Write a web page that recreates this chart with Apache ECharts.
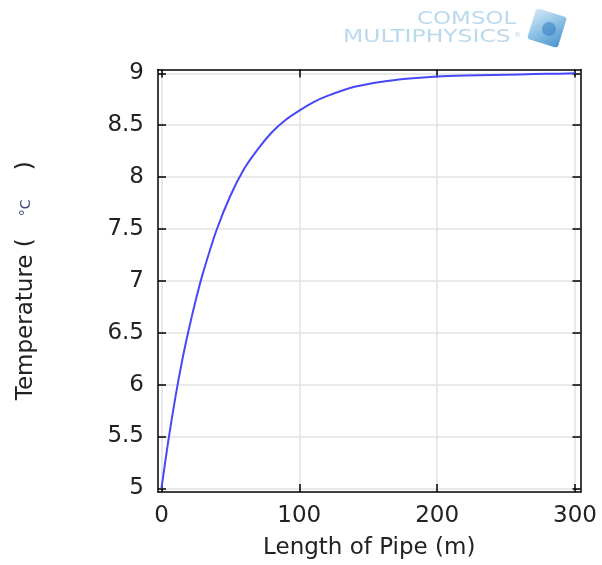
<!DOCTYPE html>
<html>
<head>
<meta charset="utf-8">
<script src="https://cdn.jsdelivr.net/npm/echarts@6/dist/echarts.min.js"></script>
<style>html,body{margin:0;padding:0;background:#fff}#c{width:602px;height:565px}</style>
</head>
<body>
<div id="c"></div>
<script>
// Data
const lengthM = [0, 5, 10, 15, 20, 25, 30, 40, 50, 60, 70, 80, 90, 100, 110, 120, 140, 160, 180, 200, 220, 240, 260, 280, 300];
const temperatureC = [5.00, 5.46, 5.87, 6.23, 6.54, 6.82, 7.07, 7.49, 7.82, 8.08, 8.27, 8.43, 8.55, 8.64, 8.72, 8.78, 8.87, 8.92, 8.95, 8.97, 8.98, 8.985, 8.99, 8.995, 9.00];
const xTicks = [0, 100, 200, 300];
const yTicks = [5, 5.5, 6, 6.5, 7, 7.5, 8, 8.5, 9];
const xTitle = 'Length of Pipe (m)';
const yTitle = 'Temperature (   {u|°C}    )';

const font = 'DejaVu Sans';
const fs = 23;
const chart = echarts.init(document.getElementById('c'), null, {renderer: 'canvas'});
const series = lengthM.map((x, i) => [x, temperatureC[i]]);

const baseX = {
  type: 'value', min: -2.5, max: 304,
  axisLine: {show: true, onZero: false, lineStyle: {color: '#000', width: 1.5}},
  axisTick: {show: true, inside: true, length: 8, customValues: xTicks, lineStyle: {color: '#000', width: 1.5}},
  splitLine: {show: false}
};
const baseY = {
  type: 'value', min: 4.965, max: 9.037,
  axisLine: {show: true, onZero: false, lineStyle: {color: '#000', width: 1.5}},
  axisTick: {show: true, inside: true, length: 8, customValues: yTicks, lineStyle: {color: '#000', width: 1.5}},
  splitLine: {show: false}
};

chart.setOption({
  animation: false,
  backgroundColor: '#fff',
  grid: {left: 158, right: 21.5, top: 69.5, bottom: 72.5, containLabel: false},
  xAxis: [
    Object.assign({}, baseX, {
      position: 'bottom',
      name: xTitle, nameLocation: 'middle', nameGap: 45,
      nameTextStyle: {fontFamily: font, fontSize: fs, color: '#222'},
      axisLabel: {show: true, customValues: xTicks, margin: 13, fontFamily: font, fontSize: fs, color: '#222',
        formatter: v => String(v)},
      splitLine: {show: true, lineStyle: {color: '#e2e2e2', width: 1.5}}
    }),
    Object.assign({}, baseX, {position: 'top', axisLabel: {show: false}})
  ],
  yAxis: [
    Object.assign({}, baseY, {
      position: 'left',
      name: yTitle, nameLocation: 'middle', nameGap: 120,
      nameTextStyle: {fontFamily: font, fontSize: fs, color: '#222',
        rich: {u: {fontFamily: font, fontSize: 14, color: '#3a4a7a'}}},
      axisLabel: {show: true, customValues: yTicks, margin: 14, fontFamily: font, fontSize: fs, color: '#222',
        formatter: v => String(v)},
      splitLine: {show: true, lineStyle: {color: '#e2e2e2', width: 1.5}}
    }),
    Object.assign({}, baseY, {position: 'right', axisLabel: {show: false}})
  ],
  series: [{
    type: 'line', data: series, smooth: 0.3, showSymbol: false, symbol: 'none',
    xAxisIndex: 0, yAxisIndex: 0,
    lineStyle: {color: '#4848f8', width: 2}
  }],
  graphic: [
    {type: 'text', left: 417, top: 11, scaleX: 1.35,
      style: {text: 'COMSOL', fontFamily: font, fontSize: 17, fill: '#b9d9ee'}},
    {type: 'text', left: 343, top: 29, scaleX: 1.38,
      style: {text: 'MULTIPHYSICS', fontFamily: font, fontSize: 17, fill: '#b9d9ee'}},
    {type: 'text', left: 514, top: 32,
      style: {text: '®', fontFamily: font, fontSize: 7, fill: '#b9d9ee'}},
    {type: 'rect', x: 547, y: 28, rotation: -0.3,
      shape: {x: -16, y: -16, width: 32, height: 32, r: 3},
      style: {fill: new echarts.graphic.LinearGradient(0, 0, 1, 1, [
        {offset: 0, color: '#d5eaf8'}, {offset: 0.5, color: '#8cc0e4'}, {offset: 1, color: '#4a94cc'}])}},
    {type: 'circle', x: 549, y: 29, shape: {r: 7},
      style: {fill: 'rgba(40,120,190,0.5)'}}
  ]
});
</script>
</body>
</html>
